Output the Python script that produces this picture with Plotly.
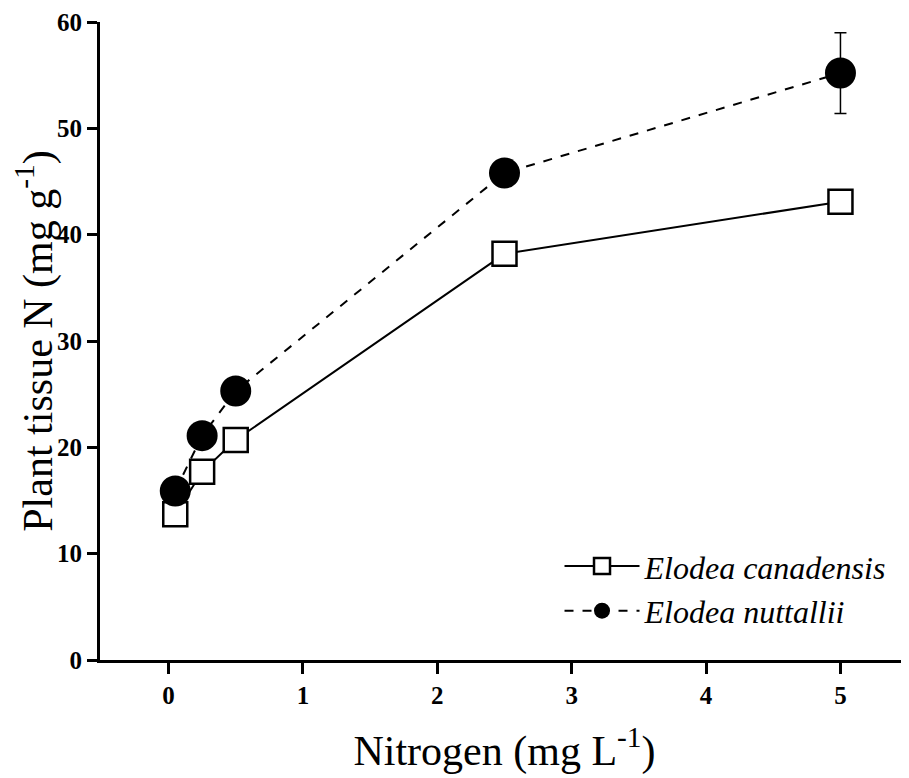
import plotly.graph_objects as go

# nitrogen treatment (mg L-1)
nitrogen = [0.05, 0.25, 0.5, 2.5, 5]

# plant tissue N (mg g-1)
canadensis = [13.7, 17.7, 20.7, 38.2, 43.1]
canadensis_err = [0.9, 1.0, 0.6, 0.9, 0.5]
nuttallii = [15.9, 21.1, 25.3, 45.8, 55.2]
nuttallii_err = [0.6, 0.7, 0.6, 0.6, 3.8]

x_ticks = [0, 1, 2, 3, 4, 5]
y_ticks = [0, 10, 20, 30, 40, 50, 60]

fig = go.Figure()

fig.add_trace(go.Scatter(
    x=nitrogen, y=canadensis,
    name="Elodea canadensis",
    mode="lines+markers",
    line=dict(color="black", width=2),
    marker=dict(symbol="square", size=24, color="white",
                line=dict(color="black", width=2.5)),
    error_y=dict(type="data", array=canadensis_err, color="black",
                 thickness=1.5, width=6),
))

fig.add_trace(go.Scatter(
    x=nitrogen, y=nuttallii,
    name="Elodea nuttallii",
    mode="lines+markers",
    line=dict(color="black", width=2, dash="dash"),
    marker=dict(symbol="circle", size=31, color="black"),
    error_y=dict(type="data", array=nuttallii_err, color="black",
                 thickness=1.5, width=6),
))

tick_font = dict(family="Liberation Serif", size=25, color="black", weight="bold")

fig.update_layout(
    width=909, height=778,
    margin=dict(l=92, r=8, t=14, b=126),
    plot_bgcolor="white",
    paper_bgcolor="white",
    showlegend=True,
    legend=dict(
        x=0.568, y=0.19, xanchor="left", yanchor="top",
        font=dict(family="Liberation Serif", size=32, color="black", style="italic"),
        bgcolor="rgba(0,0,0,0)",
        tracegroupgap=0,
        itemwidth=75,
    ),
    xaxis=dict(
        range=[-0.51, 5.51],
        tickvals=x_ticks,
        ticks="outside", ticklen=11, tickwidth=2.5, tickcolor="black",
        showline=True, linecolor="black", linewidth=3,
        showgrid=False, zeroline=False,
        tickfont=tick_font,
        automargin=False,
        title=dict(text="Nitrogen (mg L<sup>-1</sup>)",
                   font=dict(family="Liberation Serif", size=42, color="black"),
                   standoff=28),
    ),
    yaxis=dict(
        range=[0, 60],
        tickvals=y_ticks,
        ticks="outside", ticklen=10, tickwidth=2.5, tickcolor="black",
        showline=True, linecolor="black", linewidth=3,
        showgrid=False, zeroline=False,
        tickfont=tick_font,
        ticklabeloverflow="allow",
        automargin=False,
        title=dict(text="Plant tissue N (mg g<sup>-1</sup>)",
                   font=dict(family="Liberation Serif", size=42, color="black"),
                   standoff=27),
    ),
)

fig.write_html("out.html")
